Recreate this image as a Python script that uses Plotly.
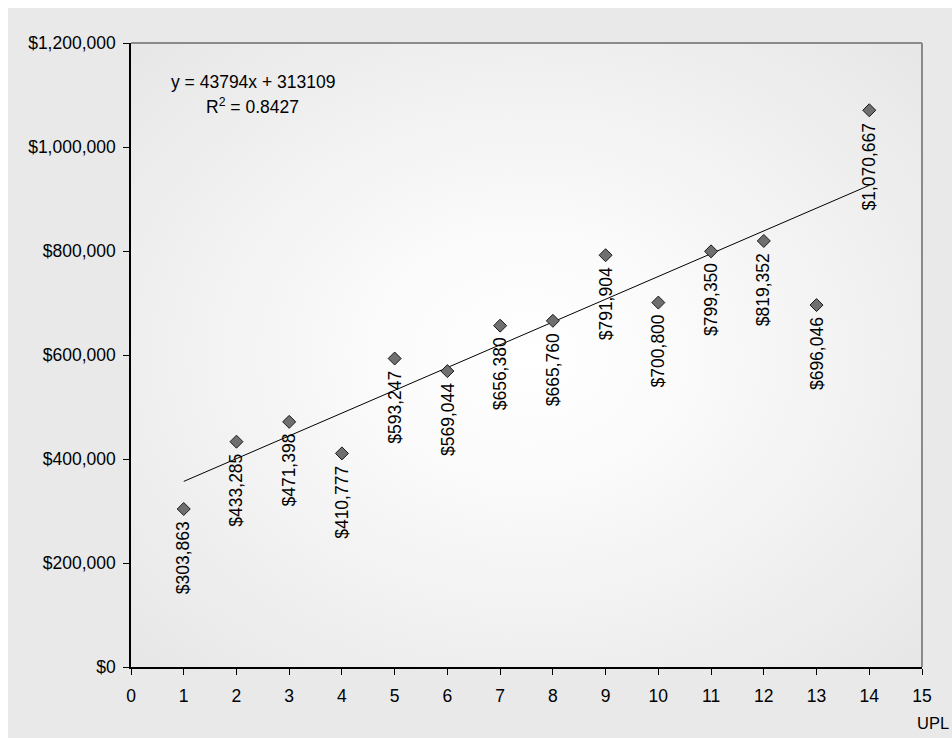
import base64
import plotly.graph_objects as go

# Observations: UPL index vs. dollar value
upl = [1, 2, 3, 4, 5, 6, 7, 8, 9, 10, 11, 12, 13, 14]
values = [303863, 433285, 471398, 410777, 593247, 569044, 656380,
          665760, 791904, 700800, 799350, 819352, 696046, 1070667]

# Linear trend reported on the chart
slope = 43794
intercept = 313109
r_squared = 0.8427

x_ticks = list(range(0, 16))
y_ticks = [0, 200000, 400000, 600000, 800000, 1000000, 1200000]
y_tick_text = ["$" + format(v, ",") for v in y_ticks]

FONT = "Arial, 'Liberation Sans', sans-serif"
FS = 17.5

trend_x = [min(upl), max(upl)]
trend_y = [slope * x + intercept for x in trend_x]

fig = go.Figure()

fig.add_trace(go.Scatter(
    x=trend_x, y=trend_y, mode="lines",
    line=dict(color="black", width=1), hoverinfo="skip", showlegend=False,
))
fig.add_trace(go.Scatter(
    x=upl, y=values, mode="markers",
    marker=dict(symbol="diamond", size=10, color="#6f6f6f",
                line=dict(color="#1a1a1a", width=1)),
    showlegend=False,
))

# Rotated value labels hanging under each marker
for x, v in zip(upl, values):
    fig.add_annotation(
        x=x, y=v, xref="x", yref="y", text="$" + format(v, ","),
        textangle=-90, showarrow=False, xanchor="center", yanchor="top",
        yshift=-10, font=dict(family=FONT, size=FS, color="black"),
    )

# Regression equation
fig.add_annotation(
    x=(253 - 131) / 791, y=(667 - 82) / 624, xref="paper", yref="paper",
    text=f"y = {slope}x + {intercept}", showarrow=False,
    xanchor="center", yanchor="middle",
    font=dict(family=FONT, size=FS, color="black"),
)
fig.add_annotation(
    x=(252 - 131) / 791, y=(667 - 106) / 624, xref="paper", yref="paper",
    text=f"R<sup>2</sup> = {r_squared}", showarrow=False,
    xanchor="center", yanchor="middle",
    font=dict(family=FONT, size=FS, color="black"),
)

# Axis title, tucked against the right edge
fig.add_annotation(
    x=(951 - 131) / 791, y=(667 - 723) / 624, xref="paper", yref="paper",
    text="UPL", showarrow=False, xanchor="right", yanchor="middle",
    font=dict(family=FONT, size=FS - 1, color="black"),
)

# Soft radial shading behind the plotting area
svg = (
    '<svg xmlns="http://www.w3.org/2000/svg" width="800" height="624" '
    'viewBox="0 0 800 624" preserveAspectRatio="none">'
    '<defs><radialGradient id="g" cx="50%" cy="50%" r="72%">'
    '<stop offset="0" stop-color="#ffffff"/>'
    '<stop offset="0.25" stop-color="#fbfbfb"/>'
    '<stop offset="1" stop-color="#e6e6e6"/>'
    '</radialGradient></defs>'
    '<rect width="800" height="624" fill="url(#g)"/></svg>'
)
src = "data:image/svg+xml;base64," + base64.b64encode(svg.encode()).decode()
fig.add_layout_image(
    source=src, xref="paper", yref="paper", x=0, y=1, sizex=1, sizey=1,
    xanchor="left", yanchor="top", sizing="stretch", layer="below",
)

# Thin white frame along the top and left edges of the chart area
fig.add_shape(
    type="rect", xref="paper", yref="paper",
    x0=(-10 - 131) / 791, x1=(960 - 131) / 791,
    y0=(667 - 8) / 624, y1=(667 + 10) / 624,
    fillcolor="white", line=dict(width=0), layer="below",
)
fig.add_shape(
    type="rect", xref="paper", yref="paper",
    x0=(-10 - 131) / 791, x1=(8 - 131) / 791,
    y0=(667 - 760) / 624, y1=(667 + 10) / 624,
    fillcolor="white", line=dict(width=0), layer="below",
)

# Gray frame on top and right of the plotting area
fig.add_shape(type="line", xref="paper", yref="paper", x0=0, x1=1, y0=1, y1=1,
              line=dict(color="#8a8a8a", width=2))
fig.add_shape(type="line", xref="paper", yref="paper", x0=1, x1=1, y0=0, y1=1,
              line=dict(color="#8a8a8a", width=2))

fig.update_xaxes(
    range=[0, 15], tickvals=x_ticks, ticks="outside", ticklen=6,
    tickcolor="black", showline=True, linecolor="black", linewidth=1.5,
    showgrid=False, zeroline=False, ticklabelstandoff=6,
    tickfont=dict(family=FONT, size=FS, color="black"),
)
fig.update_yaxes(
    range=[0, 1200000], tickvals=y_ticks, ticktext=y_tick_text,
    ticks="outside", ticklen=6, tickcolor="black", showline=True,
    linecolor="black", linewidth=1.5, showgrid=False, zeroline=False,
    ticklabelstandoff=4, tickfont=dict(family=FONT, size=FS, color="black"),
)

fig.update_layout(
    width=952, height=738,
    margin=dict(l=131, r=30, t=43, b=71),
    paper_bgcolor="#e9e9e9", plot_bgcolor="rgba(0,0,0,0)",
    showlegend=False,
)

fig.write_html("out.html")
